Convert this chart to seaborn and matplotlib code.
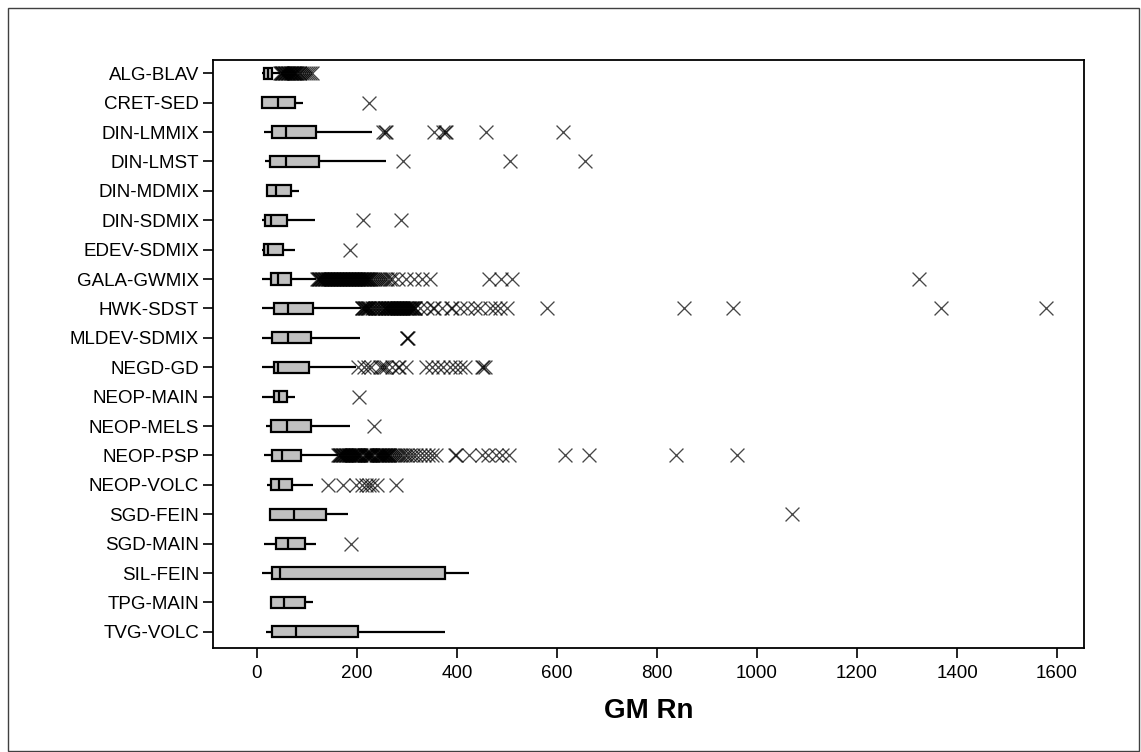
import numpy as np
import pandas as pd
import matplotlib
matplotlib.use("Agg")
import matplotlib.pyplot as plt
import seaborn as sns

# geological units (top to bottom)
groups = ["ALG-BLAV", "CRET-SED", "DIN-LMMIX", "DIN-LMST", "DIN-MDMIX",
          "DIN-SDMIX", "EDEV-SDMIX", "GALA-GWMIX", "HWK-SDST", "MLDEV-SDMIX",
          "NEGD-GD", "NEOP-MAIN", "NEOP-MELS", "NEOP-PSP", "NEOP-VOLC",
          "SGD-FEIN", "SGD-MAIN", "SIL-FEIN", "TPG-MAIN", "TVG-VOLC"]

# five-number summaries
whisker_low = [10, 10, 14, 15, 20, 10, 10, 10, 10, 10,
               10, 10, 18, 14, 20, 25, 14, 10, 25, 18]
q1 = [13, 10, 30, 25, 20, 16, 14, 27, 34, 30,
      34, 34, 28, 30, 27, 25, 38, 30, 27, 30]
median = [21, 42, 58, 58, 37, 28, 22, 42, 62, 62,
          42, 43, 60, 50, 44, 74, 62, 45, 54, 78]
q3 = [29, 76, 118, 123, 67, 60, 52, 67, 111, 107,
      103, 60, 107, 87, 70, 138, 95, 375, 95, 201]
whisker_high = [45, 92, 229, 258, 83, 115, 75, 118, 208, 206,
                198, 75, 186, 161, 111, 182, 118, 424, 111, 375]

# outliers per unit (same order as groups)
outliers = [
    [46, 47, 49, 50, 52, 53, 55, 56, 58, 59, 61, 62, 64, 65, 67, 68, 70, 71, 73, 74,
     76, 77, 80, 83, 86, 90, 94, 98, 102, 106, 110],
    [224],
    [252, 255, 258, 354, 372, 375, 378, 458, 611],
    [292, 505, 656],
    [],
    [212, 287],
    [186],
    [120, 121, 123, 124, 126, 127, 129, 130, 132, 133, 135, 136, 138, 139, 141, 142,
     144, 145, 147, 148, 150, 151, 153, 154, 156, 157, 159, 160, 162, 163, 165, 166,
     168, 169, 171, 172, 174, 175, 177, 178, 180, 181, 183, 184, 186, 187, 189, 190,
     192, 193, 195, 196, 198, 199, 201, 202, 204, 205, 207, 208, 210, 211, 213, 214,
     216, 217, 219, 220, 222, 223, 225, 228, 232, 236, 240, 244, 248, 252, 256, 260,
     265, 270, 282, 297, 313, 330, 346, 463, 487, 510, 1323],
    [209, 210, 212, 213, 215, 216, 218, 219, 221, 222, 224, 226, 229, 232, 235, 238,
     241, 244, 247, 250, 253, 255, 256, 258, 259, 261, 262, 264, 265, 267, 268, 270,
     271, 273, 274, 276, 277, 279, 280, 282, 283, 285, 286, 288, 289, 291, 292, 294,
     295, 297, 298, 300, 301, 303, 304, 306, 307, 309, 310, 312, 313, 315, 316, 326,
     340, 351, 354, 370, 387, 390, 405, 419, 435, 446, 466, 475, 486, 499,
     580, 853, 952, 1367, 1577],
    [299, 300, 302],
    [201, 213, 222, 228, 246, 250, 254, 258, 270, 282, 284, 297, 337, 350, 362, 372,
     385, 395, 405, 415, 450, 452, 455],
    [204],
    [233],
    [162, 163, 165, 166, 168, 169, 171, 172, 174, 175, 177, 178, 180, 181, 183, 184,
     186, 187, 189, 190, 192, 193, 195, 196, 198, 199, 201, 202, 204, 205, 207, 213,
     216, 217, 219, 220, 222, 223, 225, 226, 228, 229, 231, 237, 240, 241, 243, 244,
     246, 247, 249, 250, 252, 253, 255, 256, 258, 259, 261, 262, 264, 265, 269, 273,
     277, 281, 285, 290, 295, 300, 306, 312, 318, 325, 333, 341, 349, 357, 396, 398,
     423, 449, 462, 478, 490, 503, 615, 663, 837, 960],
    [141, 171, 198, 210, 218, 224, 230, 240, 277],
    [1070],
    [188],
    [],
    [],
    [],
]

box_rows = []
for i, g in enumerate(groups):
    for v in (whisker_low[i], q1[i], median[i], q3[i], whisker_high[i]):
        box_rows.append((g, v))
df_box = pd.DataFrame(box_rows, columns=["unit", "GM Rn"])

out_rows = [(g, v) for g, vals in zip(groups, outliers) for v in vals]
df_out = pd.DataFrame(out_rows, columns=["unit", "GM Rn"])

sns.set_theme(style="ticks")
plt.rcParams["font.family"] = ["Liberation Sans", "DejaVu Sans"]

fig = plt.figure(figsize=(11.41, 7.52), dpi=100)
ax = fig.add_axes([213 / 1141, 1 - 648 / 752, (1084 - 213) / 1141, (648 - 60) / 752])

line_kw = dict(color="black", linewidth=1.6)
sns.boxplot(data=df_box, x="GM Rn", y="unit", order=groups, whis=(0, 100),
            width=0.38, color="#c0c0c0", showfliers=False, ax=ax,
            boxprops=dict(facecolor="#c0c0c0", edgecolor="black", linewidth=1.6),
            whiskerprops=line_kw, capprops=dict(linewidth=0),
            medianprops=dict(color="black", linewidth=1.6))

sns.stripplot(data=df_out, x="GM Rn", y="unit", order=groups, jitter=False,
              marker="x", color="black", alpha=0.72, size=10, linewidth=0.95, ax=ax)

ax.set_xlim(-88, 1654)
ax.set_ylim(19.55, -0.45)
ax.set_xticks(np.arange(0, 1601, 200))
ax.set_xlabel("GM Rn", fontsize=20, fontweight="bold", labelpad=12, color="black")
ax.set_ylabel("")
ax.tick_params(axis="y", labelsize=13.5, length=7, width=1.2, pad=3, colors="black")
ax.tick_params(axis="x", labelsize=13.5, length=7, width=1.2, pad=5, colors="black")
for s in ax.spines.values():
    s.set_visible(True)
    s.set_color("black")
    s.set_linewidth(1.3)

fig.add_artist(plt.Rectangle((8 / 1141, 1 / 752), 1131 / 1141, 743 / 752,
                             transform=fig.transFigure, fill=False,
                             edgecolor="#404040", linewidth=1.0))

fig.savefig("out.png", dpi=100, facecolor="white")
